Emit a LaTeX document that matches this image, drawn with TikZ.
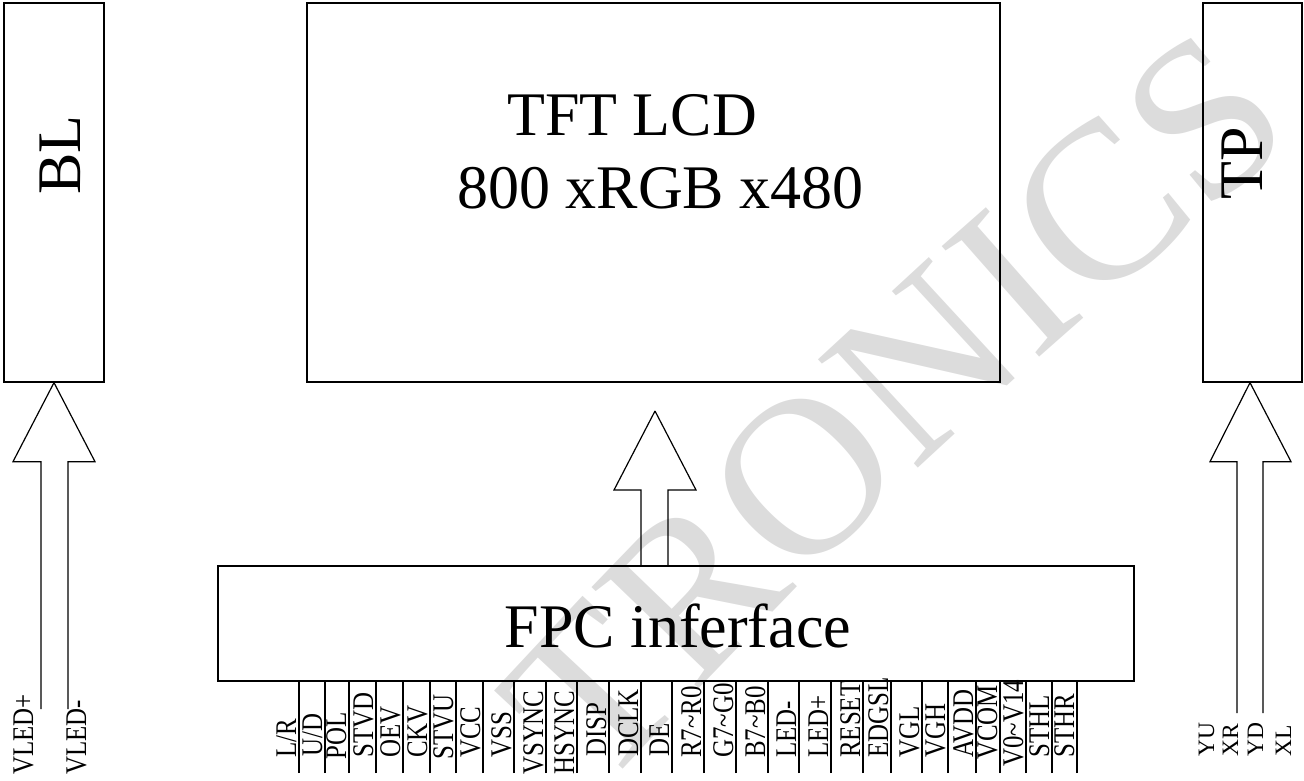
\documentclass[tikz,border=0pt]{standalone}
\usepackage{fontspec}
\setmainfont{Liberation Serif}
\usepackage{graphicx}
\usepackage{tikz}
\usetikzlibrary{positioning,calc,decorations.text}
\definecolor{wmgray}{RGB}{220,220,220}

\tikzset{
  blk/.style={draw, line width=1.3pt, inner sep=0pt},
  bigtxt/.style={font=\fontsize{62}{62}\selectfont, inner sep=0pt},
  pinlbl/.style={rotate=90, anchor=base west, inner sep=0pt, font=\fontsize{30}{30}\selectfont},
  tplbl/.style={rotate=90, anchor=base west, inner sep=0pt, font=\fontsize{23.5}{23.5}\selectfont},
  wire/.style={line width=1.2pt}
}

\begin{document}
\begin{tikzpicture}[x=1pt,y=-1pt]
  \useasboundingbox (0,0) rectangle (1304,780);
  % watermark
  \path[decorate, decoration={text along path, text align=fit to path, text color=wmgray,
      text={|\fontsize{225}{225}\selectfont|TRONICS}}]
    (600,795) to[bend left=4] (1295,140);

  % panels
  \node[blk, minimum width=100pt, minimum height=379pt] (bl) at (54,192.5) {};
  \node[blk, minimum width=693pt, minimum height=379pt] (lcd) at (653.5,192.5) {};
  \node[blk, minimum width=99pt, minimum height=379pt] (tp) at (1252.5,192.5) {};
  \node[blk, minimum width=916pt, minimum height=115pt] (fpc) at (676,623.5) {};

  \node[bigtxt, rotate=90, anchor=base west] (bltxt) at (80,195) {BL};
  \node[bigtxt, rotate=90, anchor=base west] (tptxt) at (1262,200) {TP};
  \node[bigtxt, anchor=base west] (lcd1) at (507,135) {TFT LCD};
  \node[bigtxt, anchor=base west] (lcd2) at (457,208) {800 xRGB x480};
  \node[bigtxt, anchor=base] (fpctxt) at (678,647) {FPC inferface};

  % hollow arrows
  \coordinate (catip) at (655,411);
  \draw[wire] (catip) -- ++(-41,79) -| (641,0 |- fpc.north);
  \draw[wire] (catip) -- ++(41,79) -| (668,0 |- fpc.north);

  \coordinate (vledp) at (41,709);
  \coordinate (vledm) at (68,709);
  \draw[wire] (bl.south) -- ++(-41,79) -| (vledp);
  \draw[wire] (bl.south) -- ++(41,79) -| (vledm);

  \coordinate (tptip) at ($(tp.south)+(-2.5,0)$);
  \coordinate (xr) at (1237,713);
  \coordinate (yd) at (1263,713);
  \draw[wire] (tptip) -- ++(-40,79) -| (xr);
  \draw[wire] (tptip) -- ++(41,79) -| (yd);

  \node[pinlbl] (vp) at (33,775) {\scalebox{0.83}[1]{VLED+}};
  \node[pinlbl] (vm) at (86,775) {\scalebox{0.83}[1]{VLED-}};

  \node[tplbl] (yu) at (1214,757) {YU};
  \node[tplbl] (xrl) at (1238,757) {XR};
  \node[tplbl] (ydl) at (1263,757) {YD};
  \node[tplbl] (xl) at (1291,757) {XL};

  % fpc pins
  \foreach \x/\t/\b in {299/L\slash R/758, 325/U\slash D/757, 349/POL/760,
      376/STVD/758, 403/OEV/758, 430/CKV/758, 456/STVU/760, 483/VCC/758,
      514/VSS/758, 546/VSYNC/775, 577/HSYNC/775, 609/DISP/757, 641/DCLK/757,
      672/DE/757, 704/R7\textasciitilde R0/758, 736/G7\textasciitilde G0/758,
      768/B7\textasciitilde B0/758, 799/LED-/758, 831/LED+/758, 863/RESET/758,
      891/EDGSL/758, 922/VGL/758, 948/VGH/758, 976/AVDD/758, 1000/VCOM/760,
      1026/V0\textasciitilde V14/767, 1052/STHL/758, 1077/STHR/758}{
    \draw[wire] (\x,773) -- (\x,0 |- fpc.south);
    \node[pinlbl] (pin\x) at (\x-3,\b) {\scalebox{0.83}[1]{\t}};
  }
\end{tikzpicture}
\end{document}
